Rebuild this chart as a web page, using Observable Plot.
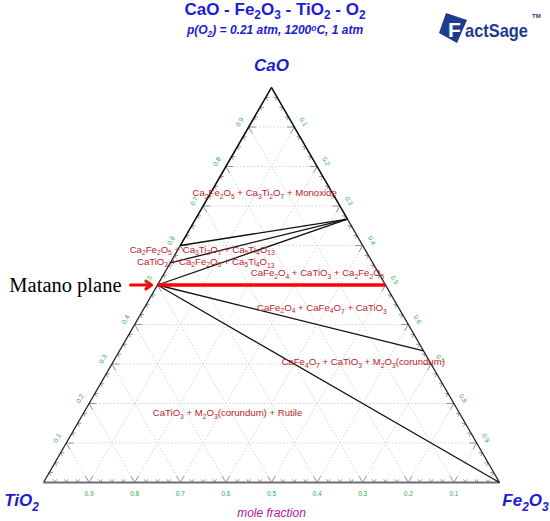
<!DOCTYPE html>
<html>
<head>
<meta charset="utf-8">
<script src="https://cdn.jsdelivr.net/npm/d3@7"></script>
<script src="https://cdn.jsdelivr.net/npm/@observablehq/plot@0.6"></script>
<style>
  html, body { margin: 0; padding: 0; background: #fff; }
  body { width: 550px; height: 521px; overflow: hidden; position: relative; font-family: "Liberation Sans", Arial, sans-serif; }
  .ttl { position: absolute; left: 0; width: 550px; text-align: center; color: #1c1cd2; font-weight: bold; white-space: nowrap; }
  #title { top: 0px; font-size: 17px; line-height: 20px; }
  #subtitle { top: 23px; font-size: 12px; line-height: 14px; font-style: italic; }
  .ttl sub { font-size: 70%; vertical-align: -0.3em; line-height: 0; }
  #logo { position: absolute; left: 430px; top: 0px; }
  #chart { position: absolute; left: 0; top: 45px; }
</style>
</head>
<body>
<div id="title" class="ttl">CaO - Fe<sub>2</sub>O<sub>3</sub> - TiO<sub>2</sub> - O<sub>2</sub></div>
<div id="subtitle" class="ttl">p(O<sub>2</sub>) = 0.21 atm, 1200<sup style="font-size:70%;vertical-align:0.4em;line-height:0">o</sup>C, 1 atm</div>
<svg id="logo" width="120" height="50">
  <polygon points="16,13 37,20 27,43 9,33" fill="#1d3c8f"/>
  <text x="18" y="37" font-family="Liberation Sans, Arial" font-weight="bold" font-size="21" fill="#fff" stroke="#1d3c8f" stroke-width="1.6" paint-order="stroke">F</text>
  <text x="35" y="37" font-family="Liberation Sans, Arial" font-weight="bold" font-size="19" fill="#1d3c8f" textLength="63" lengthAdjust="spacingAndGlyphs">actSage</text>
  <text x="102" y="18" font-family="Liberation Sans, Arial" font-weight="bold" font-size="6" fill="#1d3c8f">TM</text>
</svg>
<div id="chart"></div>
<script>
// ---------- data (mole fractions: CaO, Fe2O3; TiO2 = 1 - CaO - Fe2O3) ----------
const compoundNames  = ["CaO", "TiO2", "Fe2O3", "CaTiO3", "Ca5Ti4O13", "Ca3Ti2O7", "Ca2Fe2O5", "CaFe2O4", "CaFe4O7"];
const compoundCaO    = [1.0,   0.0,    0.0,     0.5,      0.556,       0.6,        0.667,      0.5,       0.333];
const compoundFe2O3  = [0.0,   0.0,    1.0,     0.0,      0.0,         0.0,        0.333,      0.5,       0.667];

// tie-lines (phase boundaries)
const tieFrom = ["Ca3Ti2O7", "Ca2Fe2O5", "Ca2Fe2O5", "Ca2Fe2O5", "Ca2Fe2O5", "CaTiO3",  "CaTiO3",  "CaTiO3"];
const tieTo   = ["CaO",      "CaO",      "Ca3Ti2O7", "Ca5Ti4O13", "CaTiO3",  "CaFe2O4", "CaFe4O7", "Fe2O3"];

// Matano plane
const matanoFrom = "CaTiO3";
const matanoTo = "CaFe2O4";
const matanoArrowX = [0.191, 0.237];   // cartesian x along CaO = 0.5
const matanoCaO = 0.5;

// phase-field labels
const regionLabels = [
  "Ca2Fe2O5 + Ca3Ti2O7 + Monoxide",
  "Ca2Fe2O5 + Ca3Ti2O7 + Ca5Ti4O13",
  "CaTiO3 + Ca2Fe2O5 + Ca5Ti4O13",
  "CaFe2O4 + CaTiO3 + Ca2Fe2O5",
  "CaFe2O4 + CaFe4O7 + CaTiO3",
  "CaFe4O7 + CaTiO3 + M2O3(corundum)",
  "CaTiO3 + M2O3(corundum) + Rutile"
];
const regionCaO   = [0.734, 0.590, 0.5595, 0.530, 0.443, 0.306, 0.177];
const regionFe2O3 = [0.118, 0.053, 0.076,  0.336, 0.389, 0.548, 0.315];

// axis tick labels
const tickValues = [0.1, 0.2, 0.3, 0.4, 0.5, 0.6, 0.7, 0.8, 0.9];
const tickStepsPerMajor = 4;

// ---------- geometry helpers ----------
const S3 = Math.sqrt(3) / 2;
const X = (c, f) => f + c / 2;
const Y = (c) => c * S3;
const comp = Object.fromEntries(compoundNames.map((n, i) => [n, {c: compoundCaO[i], f: compoundFe2O3[i]}]));
const seg = (c1, f1, c2, f2) => ({x1: X(c1, f1), y1: Y(c1), x2: X(c2, f2), y2: Y(c2)});

// grid lines
const grid = [];
for (const v of tickValues) {
  grid.push(seg(v, 0, v, 1 - v));          // constant CaO
  grid.push(seg(0, v, 1 - v, v));          // constant Fe2O3
  grid.push(seg(0, 1 - v, 1 - v, 0));      // constant TiO2
}

// tick chevrons
const ticks = [];
const nSteps = tickValues.length + 1;
for (let i = 1; i < nSteps * tickStepsPerMajor; i++) {
  const s = i / (nSteps * tickStepsPerMajor);
  const L = (i % tickStepsPerMajor === 0) ? 0.016 : 0.008;
  ticks.push(seg(0, s, L, s), seg(0, s, L, s - L));                 // bottom edge
  ticks.push(seg(s, 0, s, L), seg(s, 0, s - L, L));                 // left edge
  ticks.push(seg(s, 1 - s, s, 1 - s - L), seg(s, 1 - s, s - L, 1 - s)); // right edge
}

const edges = [
  {...seg(0, 0, 1, 0), w: 1.3, col: "#222"},
  {...seg(1, 0, 0, 1), w: 1.3, col: "#222"},
  {...seg(0, 0, 0, 1), w: 2, col: "#6e6e6e"}
];

const ties = tieFrom.map((a, i) => seg(comp[a].c, comp[a].f, comp[tieTo[i]].c, comp[tieTo[i]].f));
const matano = [seg(comp[matanoFrom].c, comp[matanoFrom].f, comp[matanoTo].c, comp[matanoTo].f)];
const arrow = [{x1: matanoArrowX[0], x2: matanoArrowX[1], y: Y(matanoCaO)}];

const regions = regionLabels.map((t, i) => ({t, x: X(regionCaO[i], regionFe2O3[i]), y: Y(regionCaO[i])}));
const bottomLbl = tickValues.map(v => ({t: String(v), x: X(0, 1 - v), y: 0}));       // TiO2 fraction
const leftLbl   = tickValues.map(v => ({t: String(v), x: X(v, 0), y: Y(v)}));        // CaO fraction
const rightLbl  = tickValues.map(v => ({t: String(v), x: X(1 - v, v), y: Y(1 - v)})); // Fe2O3 fraction

const cornerStyle = {x: "x", y: "y", text: "t", fill: "#1c1cd2", fontSize: 17, fontWeight: "bold", fontStyle: "italic"};

const plot = Plot.plot({
  width: 550,
  height: 476,
  margin: 0,
  x: {domain: [0, 1], range: [43, 499], axis: null},
  y: {domain: [0, S3], range: [437, 42], axis: null},
  style: {fontFamily: "'Liberation Sans', Arial, sans-serif", background: "#fff", overflow: "visible"},
  marks: [
    Plot.link(grid, {x1: "x1", y1: "y1", x2: "x2", y2: "y2", stroke: "#c6c6c6", strokeWidth: 0.8, strokeDasharray: "1.5,2"}),
    Plot.link(ticks, {x1: "x1", y1: "y1", x2: "x2", y2: "y2", stroke: "#8a8a8a", strokeWidth: 0.9}),
    Plot.link(edges, {x1: "x1", y1: "y1", x2: "x2", y2: "y2", stroke: "col", strokeWidth: "w"}),
    Plot.link(ties, {x1: "x1", y1: "y1", x2: "x2", y2: "y2", stroke: "#111", strokeWidth: 1.3}),
    Plot.link(matano, {x1: "x1", y1: "y1", x2: "x2", y2: "y2", stroke: "#ff0000", strokeWidth: 3.5}),
    Plot.arrow(arrow, {x1: "x1", x2: "x2", y1: "y", y2: "y", stroke: "#ff0000", strokeWidth: 3, headLength: 11, headAngle: 70}),
    Plot.text(regions, {x: "x", y: "y", text: "t", fill: "#b8232b", fontSize: 9.6}),
    Plot.text(bottomLbl, {x: "x", y: "y", text: "t", fill: "#2aae4a", fontSize: 6.5, dy: 11}),
    Plot.text(leftLbl, {x: "x", y: "y", text: "t", fill: "#2aae4a", fontSize: 6.5, dx: -9, dy: -5, rotate: -60}),
    Plot.text(rightLbl, {x: "x", y: "y", text: "t", fill: "#2aae4a", fontSize: 6.5, dx: 9, dy: -5, rotate: 60}),
    Plot.text([{t: "CaO", x: X(1, 0), y: Y(1)}], {...cornerStyle, dy: -22}),
    Plot.text([{t: "TiO2", x: X(0, 0), y: Y(0)}], {...cornerStyle, dx: -22, dy: 18}),
    Plot.text([{t: "Fe2O3", x: X(0, 1), y: Y(0)}], {...cornerStyle, dx: 26, dy: 18}),
    Plot.text([{t: "mole fraction", x: X(0, 0.5), y: 0}], {x: "x", y: "y", text: "t", dy: 31, fill: "#b0179a", fontSize: 12, fontStyle: "italic"}),
    Plot.text([{t: "Matano plane", x: X(comp[matanoFrom].c, comp[matanoFrom].f), y: Y(comp[matanoFrom].c)}],
      {x: "x", y: "y", text: "t", dx: -36, dy: 0, textAnchor: "end", fill: "#000", fontSize: 20.5, fontFamily: "'Liberation Serif', 'Times New Roman', serif"})
  ]
});
document.getElementById("chart").appendChild(plot);

// chemical subscripts
const NS = "http://www.w3.org/2000/svg";
plot.querySelectorAll("text").forEach(el => {
  const s = el.textContent;
  if (!/[A-Za-z)]\d/.test(s)) return;
  while (el.firstChild) el.removeChild(el.firstChild);
  const parts = [];
  let i = 0;
  while (i < s.length) {
    let j = i;
    if (/\d/.test(s[i]) && i > 0 && /[A-Za-z)]/.test(s[i - 1])) {
      while (j < s.length && /\d/.test(s[j])) j++;
      parts.push({sub: true, t: s.slice(i, j)});
    } else {
      while (j < s.length && !(/\d/.test(s[j]) && j > 0 && /[A-Za-z)]/.test(s[j - 1]))) j++;
      parts.push({sub: false, t: s.slice(i, j)});
    }
    i = j;
  }
  let shifted = false;
  parts.forEach(p => {
    const ts = document.createElementNS(NS, "tspan");
    ts.textContent = p.t;
    if (p.sub) {
      ts.setAttribute("font-size", "70%");
      ts.setAttribute("dy", "0.43em");
      shifted = true;
    } else if (shifted) {
      ts.setAttribute("dy", "-0.3em");
      shifted = false;
    }
    el.appendChild(ts);
  });
});
</script>
</body>
</html>
